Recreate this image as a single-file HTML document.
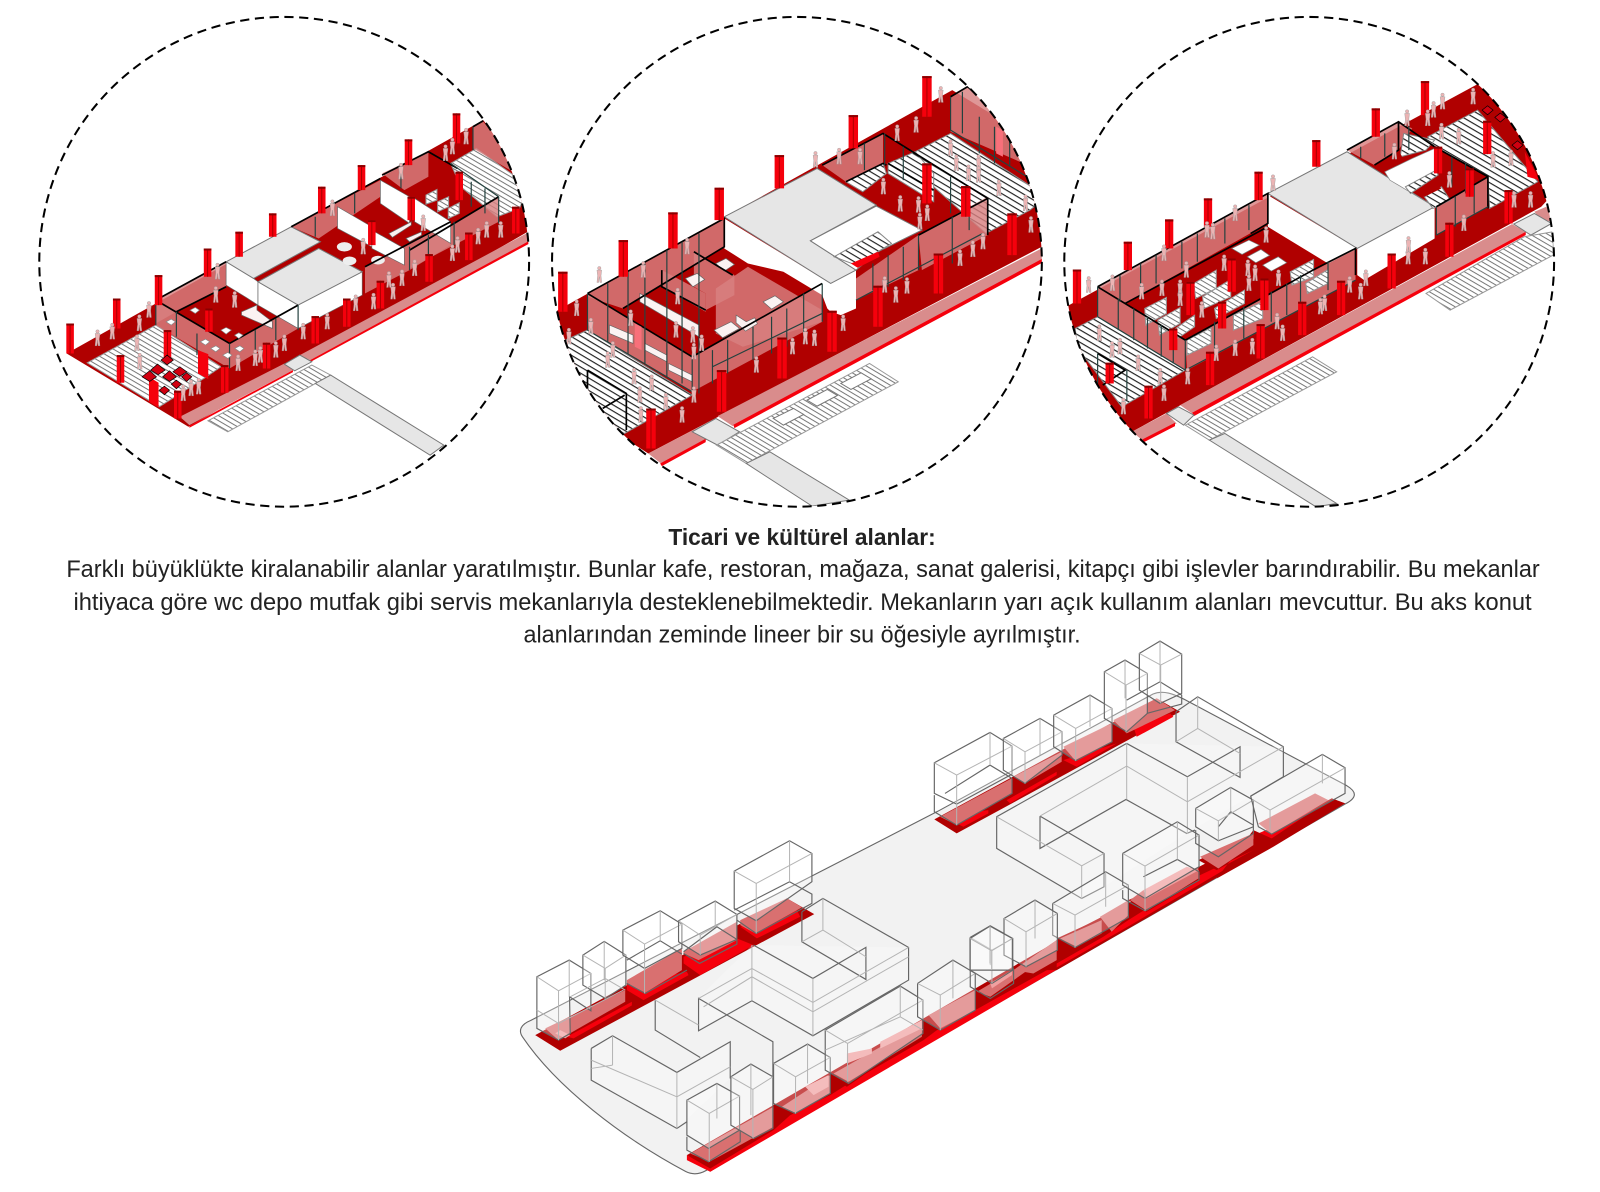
<!DOCTYPE html>
<html lang="tr"><head><meta charset="utf-8"><title>Ticari ve kültürel alanlar</title>
<style>
html,body{margin:0;padding:0;background:#fff}
svg{display:block}
text{font-family:"Liberation Sans",sans-serif;fill:#222}
.d{fill:#b00000}.b{fill:#f5000c}.k{fill:#d98c8c}.g{fill:#e6e6e6;stroke:#777;stroke-width:3}
.h{fill:url(#hatch);stroke:#888;stroke-width:3}.hf{fill:url(#hatchF);stroke:#999;stroke-width:3}
.w{fill:#fbf2f2;stroke:#666;stroke-width:2}
.gl{fill:#d88080;fill-opacity:.82}
.f{fill:none;stroke:#000;stroke-width:5}.m{fill:none;stroke:#24423f;stroke-width:3.5}
.col{fill:none;stroke:#f5000c}.cl{fill:none;stroke:#a00;stroke-width:3}.cp{fill:none;stroke:#8a0000;stroke-dasharray:6 9999}
.o{fill:#fff;fill-opacity:.3;stroke:#666;stroke-width:3.5}
.l{fill:none;stroke:#666;stroke-width:3.5}
.i{fill:none;stroke:#b4b4b4;stroke-width:3}
.p{fill:#ecb4b4;stroke:#999;stroke-width:1.2}
.c{fill:none;stroke:#000;stroke-width:2;stroke-dasharray:9 5.5}
</style></head><body>
<svg xmlns="http://www.w3.org/2000/svg" width="1600" height="1192" viewBox="0 0 1568 1168">
<defs>
<pattern id="hatch" patternUnits="userSpaceOnUse" width="16" height="16" patternTransform="rotate(31)"><rect width="16" height="16" fill="#fff"/><rect width="16" height="3.5" fill="#222"/></pattern>
<pattern id="hatchF" patternUnits="userSpaceOnUse" width="13" height="13" patternTransform="rotate(31)"><rect width="13" height="13" fill="#fff"/><rect width="13" height="3" fill="#777"/></pattern>
<g id="pp"><circle class="p" cy="-31" r="5"/><path class="p" d="M-7-25H7L5-8 7 12H2L0-5-2 12H-7L-5-8Z"/></g>
<clipPath id="c1"><circle cx="278.5" cy="256.5" r="240"/></clipPath>
<clipPath id="c2"><circle cx="781" cy="256.5" r="240"/></clipPath>
<clipPath id="c3"><circle cx="1283" cy="256.5" r="240"/></clipPath>
<path id="k1" d="M200 970V1060M336 895V985M458 825V915M601 745V830M693 695V770M791 640V710M934 560V640M1050 495V570M1187 418V495M1327 340V430M514 1172V1255M651 1095V1178M773 1028V1105M915 948V1030M1007 895V980M1105 842V925M1247 762V845M1363 697V780M1500 620V700M347 1065V1148M484 990V1075M605 925V995M1335 515V600M1195 590V660M1080 660V735"/>
<path id="k2" d="M67 815V935M246 720V830M393 637V745M530 563V660M708 465V565M927 345V445M1145 228V350M328 1225V1345M537 1110V1235M716 1012V1135M864 932V1055M1000 857V980M1179 760V880M1397 640V765M1145 490V610M1260 558V650"/>
<path id="k3" d="M50 808V910M198 725V810M318 658V745M431 595V680M578 515V600M746 420V500M919 325V410M1062 243V345M258 1157V1255M437 1055V1155M584 972V1075M705 905V1005M818 842V945M965 760V865M1133 668V770M1305 570V670M145 1088V1150M1243 362V462M1100 440V520M1192 505V590M380 845V945M500 775V875M595 835V930M472 905V985M330 985V1050"/>
</defs>
<rect width="1568" height="1168" fill="#fff"/>

<!-- Circle 1 -->
<g clip-path="url(#c1)"><g transform="translate(1.5 0) scale(.336 .3267)">
<path class="d" d="M190 1060L1405 360 1560 560V680L545 1280Z"/>
<path class="k" d="M520 1250L825 1090 850 1110 548 1275ZM870 1065L1540 695 1540 725 900 1080Z"/>
<path class="b" d="M548 1277L850 1110 850 1116 548 1283ZM900 1080L1540 722V730L900 1086Z"/>
<path class="g" d="M825 1092L870 1065 905 1085 855 1112Z"/>
<path class="hf" d="M602 1262L905 1095 960 1125 660 1295Z"/>
<path class="g" d="M915 1150L960 1125 1290 1335 1250 1365Z"/>
<path class="hf" d="M250 1088L450 975 640 1100 590 1135 460 1220Z"/>
<path class="hf" d="M1310 490L1385 445 1540 560 1510 625 1445 650 1340 560Z"/>
<path class="gl" d="M1375 380L1405 365 1500 480V520L1375 445Z"/>
<path class="gl" d="M450 900L655 785V860L510 935 450 970Z"/>
<path class="gl" d="M450 900L665 1030V1105L450 975Z"/>
<path class="gl" d="M665 1030L865 915V985L665 1105Z"/>
<path class="gl" d="M845 680L1105 540V590L925 715Z"/>
<path class="gl" d="M1110 520L1245 455V530L1175 570Z"/>
<path class="gl" d="M1060 800L1310 665V735L1190 810 1060 880Z"/>
<path class="gl" d="M1190 750L1450 590V665L1190 805Z"/>
<path fill="#fff" stroke="#666" stroke-width="2" d="M655 785L735 835 748 845V915L715 893 655 855Z"/>
<path class="g" d="M655 785L845 680 930 725 735 835Z"/>
<path fill="#fff" stroke="#666" stroke-width="2" d="M748 845L865 915V985L748 915ZM865 915L1052 815V885L865 985Z"/>
<path class="g" d="M748 845L925 745 1052 815 865 915Z"/>
<path fill="#fff" stroke="#666" stroke-width="2" d="M980 620L1080 680V740L980 685ZM1105 540L1190 590V670L1105 610ZM1205 595L1310 665V730L1205 665ZM1080 690L1175 745V795L1080 745Z"/>
<ellipse cx="1000" cy="740" rx="22" ry="14" fill="#eee"/><ellipse cx="1015" cy="782" rx="20" ry="13" fill="#eee"/><ellipse cx="1098" cy="780" rx="20" ry="13" fill="#eee"/>
<path class="w" d="M1130 700L1195 665V675L1140 712ZM1180 715L1225 695V705L1190 725ZM700 935L745 915V930L790 965V985L700 945Z"/>
<path class="hf" d="M1238 585L1270 568V600L1238 612ZM1272 605L1304 590V620L1272 635ZM1303 625L1335 608V640L1303 655Z"/>
<path class="f" d="M450 900L655 785M450 900L665 1030 865 915M510 935L655 860M845 680L1105 535M1110 525L1245 455 1330 505M1060 800L1310 665M1190 750L1450 590M1375 380L1405 362"/>
<path class="m" d="M450 900V975M510 935V1010M570 1000V1065M665 1030V1105M740 990V1060M800 955V1020M865 915V990M1190 740V810M1245 705V770M1320 665V735M1450 590V670M1375 380V450M915 650V710M1030 580V640M1165 510V565M1310 490L1450 590M1370 545V620M1410 565V640"/>
<use href="#k1" class="col" stroke-width="22"/><use href="#k1" class="cl"/><use href="#k1" class="cp" stroke-width="22"/>
<path class="b" d="M430 1130L458 1148V1222L430 1205ZM573 1050L603 1062V1137L573 1120Z"/>
<path fill="#d00010" d="M410 1130l22-18 20 18-20 14ZM435 1110l20-18 22 18-20 14ZM470 1130l20-18 20 18-20 14ZM500 1115l20-15 20 15-20 14ZM465 1080l18-15 18 15-18 14ZM525 1130l15-12 15 12-15 14ZM495 1152l15-12 15 12-15 14ZM460 1170l15-12 15 12-15 14Z" stroke="#000" stroke-width="2"/>
<path fill="#fff" stroke="#888" stroke-width="2" d="M550 930l15-8 12 8-12 10ZM480 965l15-8 12 8-12 10ZM640 990l15-8 15 8-15 12ZM680 1005l12-7 12 7-12 10ZM580 1025l15-8 12 8-12 10ZM610 1045l15-8 12 8-12 10ZM680 1045l15-8 12 8-12 10ZM645 1065l15-8 12 8-12 10Z"/>
<g><use href="#pp" x="280" y="1025"/><use href="#pp" x="323" y="1005"/><use href="#pp" x="402" y="980"/><use href="#pp" x="430" y="940"/><use href="#pp" x="395" y="1040"/><use href="#pp" x="403" y="1095"/><use href="#pp" x="530" y="1190"/><use href="#pp" x="553" y="1175"/><use href="#pp" x="575" y="1170"/><use href="#pp" x="690" y="1100"/><use href="#pp" x="740" y="1085"/><use href="#pp" x="755" y="1075"/><use href="#pp" x="800" y="1060"/><use href="#pp" x="825" y="1040"/><use href="#pp" x="880" y="1005"/><use href="#pp" x="950" y="975"/><use href="#pp" x="1033" y="920"/><use href="#pp" x="1085" y="915"/><use href="#pp" x="1142" y="885"/><use href="#pp" x="1130" y="850"/><use href="#pp" x="1168" y="845"/><use href="#pp" x="1205" y="815"/><use href="#pp" x="1315" y="770"/><use href="#pp" x="1330" y="745"/><use href="#pp" x="1390" y="720"/><use href="#pp" x="1415" y="700"/><use href="#pp" x="1456" y="700"/><use href="#pp" x="680" y="910"/><use href="#pp" x="625" y="895"/><use href="#pp" x="1055" y="750"/><use href="#pp" x="1230" y="680"/><use href="#pp" x="1315" y="450"/><use href="#pp" x="1355" y="420"/><use href="#pp" x="1295" y="470"/><use href="#pp" x="1165" y="525"/><use href="#pp" x="965" y="635"/><use href="#pp" x="630" y="825"/></g>
</g></g>

<!-- Circle 2 -->
<g clip-path="url(#c2)"><g transform="translate(529.4 0) scale(.331 .3267)">
<path class="d" d="M0 960L1220 270 1560 480V700L320 1360 0 1150Z"/>
<path class="k" d="M320 1360L490 1270 495 1318 360 1392ZM525 1248L1490 742V778L570 1278Z"/>
<path class="b" d="M355 1390L490 1316V1326L360 1398ZM572 1274L1490 774V786L575 1284Z"/>
<path class="g" d="M450 1295L520 1255 590 1295 525 1335Z"/>
<path class="hf" d="M522 1335L975 1090 1060 1145 610 1390Z"/>
<path class="g" style="fill:#fff" d="M690 1255l60-30 30 18-60 32ZM790 1200l60-32 30 18-60 32ZM890 1150l60-32 30 18-60 32Z"/>
<path class="g" d="M610 1390L680 1355 915 1500 805 1518Z"/>
<path class="h" d="M75 1020L140 990 450 1185 250 1300 60 1200Z"/>
<path class="h" d="M1110 455L1215 400 1500 590 1450 630 1320 700 1165 560Z"/>
<path class="h" d="M905 545L1015 490 1025 520 955 575Z"/>
<path class="h" d="M1030 490L1110 455 1165 520V605L1030 520Z"/>
<path class="gl" d="M1215 290L1270 260 1500 430V520L1215 395Z"/>
<path class="gl" d="M835 495L1015 400V490L905 545Z"/>
<path class="gl" d="M140 880L545 655V740L245 925 140 890Z"/>
<path class="d" d="M245 925L545 745 835 960 550 1120 450 1075Z"/>
<path class="gl" d="M360 810L490 880V935L360 860Z"/>
<path class="gl" d="M455 755L575 825V885L490 930 490 880 455 860Z"/>
<path class="gl" d="M520 865L615 800 835 930V965L600 1040 520 1000Z"/>
<path class="gl" d="M140 880L450 1070V1175L140 990Z"/>
<path class="gl" d="M450 1070L835 850V965L550 1120 450 1175Z"/>
<path class="gl" d="M935 835L1120 705V810L935 900Z"/>
<path class="gl" d="M1120 705L1325 590V705L1130 810Z"/>
<path fill="#fff" d="M545 655L860 850 935 810V925L890 945 860 935 850 925 835 885 720 815 615 790 545 745Z"/>
<path class="g" d="M545 650L820 505 995 615 800 722 935 810 860 850Z"/>
<path fill="#fff" stroke="#777" stroke-width="3" d="M800 722L995 618 1130 690 1000 755 935 810Z"/>
<path class="h" d="M870 770L1000 695 1040 730 935 795Z"/>
<path class="b" d="M920 790L1000 755 1005 770 940 803Z"/>
<path class="w" d="M295 880L470 975V1010L295 905ZM205 975l70 30v25l-70-30ZM310 1030l65 35v20l-65-35ZM380 1090l70 35v20l-70-35ZM515 990l50-25 25 20-50 28ZM580 945l30 20 25-12 8 18-35 22-28-25ZM660 905l35-18 25 18-35 22ZM430 835l35-15 22 18-35 22ZM520 790l30-15 25 18-30 20Z"/>
<path class="f" d="M140 880L545 655V740L245 925M140 880L450 1070 835 850M360 810V860L490 930M455 755L570 825M905 545L1015 490 1025 495M835 495L1015 400 1325 595V705M1030 490L1165 570M1215 290L1265 260 1340 320M1120 705L1325 595M140 1110L255 1180V1290M140 1110V1190M185 1225L250 1185"/>
<path class="m" d="M140 880V990M200 850V1025M260 815V1060M310 790V1090M375 750V1130M420 725V1150M470 700V1180M450 1070V1175M510 1050V1150M555 1020V1120M630 980V1080M685 950V1060M730 925V1040M780 880V1000M835 850V965M960 430V510M1020 400V495M1075 440V540M1215 530V640M1270 560V690M1220 650V790M1120 705V810M1075 740V840M1030 765V860M985 790V870M1215 290V390M1250 275V400M1300 350V460M1345 380V490M1390 420V500M1215 390L1490 560M140 990L450 1175M510 1100L835 940M935 900L1310 700"/>
<use href="#k2" class="col" stroke-width="28"/><use href="#k2" class="cl"/><use href="#k2" class="cp" stroke-width="28"/>
<path fill="#f8707a" d="M280 970l20 10v70l-20-10ZM1350 380l20 10v80l-20-10Z"/>
<g><use href="#pp" x="108" y="935"/><use href="#pp" x="85" y="1020"/><use href="#pp" x="150" y="990"/><use href="#pp" x="175" y="835"/><use href="#pp" x="305" y="820"/><use href="#pp" x="435" y="750"/><use href="#pp" x="407" y="900"/><use href="#pp" x="268" y="965"/><use href="#pp" x="402" y="1000"/><use href="#pp" x="452" y="1015"/><use href="#pp" x="478" y="1040"/><use href="#pp" x="455" y="1065"/><use href="#pp" x="455" y="1195"/><use href="#pp" x="420" y="1255"/><use href="#pp" x="372" y="1215"/><use href="#pp" x="330" y="1160"/><use href="#pp" x="278" y="1140"/><use href="#pp" x="295" y="1195"/><use href="#pp" x="298" y="1255"/><use href="#pp" x="200" y="1090"/><use href="#pp" x="215" y="1060"/><use href="#pp" x="640" y="1105"/><use href="#pp" x="747" y="1050"/><use href="#pp" x="785" y="1020"/><use href="#pp" x="812" y="1025"/><use href="#pp" x="897" y="980"/><use href="#pp" x="1020" y="865"/><use href="#pp" x="1053" y="895"/><use href="#pp" x="1086" y="868"/><use href="#pp" x="1243" y="785"/><use href="#pp" x="1281" y="758"/><use href="#pp" x="1311" y="735"/><use href="#pp" x="1453" y="685"/><use href="#pp" x="1016" y="570"/><use href="#pp" x="1066" y="622"/><use href="#pp" x="1120" y="625"/><use href="#pp" x="1146" y="650"/><use href="#pp" x="1124" y="675"/><use href="#pp" x="947" y="480"/><use href="#pp" x="885" y="480"/><use href="#pp" x="815" y="490"/><use href="#pp" x="1186" y="295"/><use href="#pp" x="1113" y="385"/><use href="#pp" x="1057" y="410"/><use href="#pp" x="1215" y="455"/><use href="#pp" x="1232" y="500"/><use href="#pp" x="1298" y="500"/><use href="#pp" x="1298" y="535"/><use href="#pp" x="1268" y="530"/><use href="#pp" x="1358" y="575"/><use href="#pp" x="1437" y="620"/></g>
</g></g>

<!-- Circle 3 -->
<g clip-path="url(#c3)"><g transform="translate(1038.6 0) scale(.337 .3267)">
<path class="d" d="M0 930L1215 252 1560 440 1400 620 210 1295 0 1160Z"/>
<path class="k" d="M210 1295L310 1240 340 1270 240 1320ZM350 1215L1315 672 1355 695 385 1240ZM1380 635L1415 620 1440 665 1400 660Z"/>
<path class="b" d="M240 1318L335 1268V1278L245 1326ZM385 1238L1355 695V705L390 1248Z"/>
<path class="g" d="M310 1240L345 1220 390 1245 360 1275ZM1320 672L1380 640 1430 670 1370 705Z"/>
<path class="hf" d="M365 1275L735 1070 805 1115 435 1320ZM1065 880L1350 710 1435 695V765L1135 930Z"/>
<path class="g" d="M435 1320L480 1300 805 1510 745 1520Z"/>
<path class="h" d="M45 985L110 950 365 1110 180 1220 50 1040Z"/>
<path class="h" d="M1070 410L1215 330 1390 545 1250 625 1245 530 1090 440Z"/>
<path class="gl" d="M835 450L985 365 1025 385 985 450 915 495Z"/>
<path class="h" d="M1000 400L1090 420 1065 450 990 470Z"/>
<path class="gl" d="M110 860L605 580V670L190 910Z"/>
<path class="d" d="M190 910L605 680 860 840 365 1015Z"/>
<path class="gl" d="M110 860L365 1020V1110L110 950Z"/>
<path class="gl" d="M365 1020L860 745V840L370 1110Z"/>
<path class="gl" d="M1095 620L1245 530V620L1095 705Z"/>
<path fill="#fff" d="M605 585L865 745V825L885 840 1090 715V620L865 745 780 790 605 680Z"/>
<path class="g" d="M605 580L835 455 1090 620 865 745Z"/>
<path class="d" d="M920 495L985 450 1000 480 945 520Z"/>
<path fill="#fff" stroke="#888" stroke-width="2" d="M945 515L1025 475 1090 445 1100 520 1010 570 1090 620 960 540Z"/>
<path class="h" d="M1005 560L1095 510 1100 525 1020 580ZM1060 590L1110 560 1135 600 1085 625Z"/>
<path class="d" d="M1040 585L1095 555 1110 565 1060 590Z"/>
<path class="hf" d="M390 850L455 810V865L395 895ZM415 890L497 838V890L420 925ZM450 925L537 870V910L455 955ZM247 925L310 892V940L250 975ZM285 960L350 922V970L290 1005ZM330 990L392 945V980L335 1020ZM505 945L590 905V955L505 990ZM370 1020L440 983V1030L370 1065ZM670 815L738 778V830L675 855ZM715 850L780 808V850L720 880Z"/>
<path fill="#fff" stroke="#777" stroke-width="2" d="M500 745l50-25 30 15-50 28ZM545 770l40-22 25 18-40 22ZM590 795l45-25 25 18-45 25Z"/>
<path class="f" d="M110 860L605 580V670L555 700M190 910L605 680M110 860L365 1020 745 805 860 745V825M835 450L985 365 1090 440 1245 530V625M985 365V450L915 495M1095 620L1245 530M110 1060L190 1110 125 1155"/>
<path class="m" d="M110 860V950M175 825V905M235 790V870M280 765V850M355 725V805M400 700V785M480 655V730M550 615V690M365 1020V1110M365 1110L860 840M450 965V1060M535 920V1015M615 875V965M660 850V945M700 825V920M780 785V870M110 950L365 1110M170 895V990M215 925V1020M255 950V1045M295 975V1070M330 995V1090M1095 620V705M1150 590V680M1205 555V640M875 440V475M945 400V470M1015 360V450M1140 470V560M1180 490V580M1095 705L1245 620M110 1060V1150M195 1110V1200"/>
<use href="#k3" class="col" stroke-width="24"/><use href="#k3" class="cl"/><use href="#k3" class="cp" stroke-width="24"/>
<path class="b" d="M1352 455L1395 540 1360 530Z"/>
<path fill="#d00010" stroke="#000" stroke-width="2" d="M1228 330l16-13 16 13-16 14ZM1265 352l16-13 16 13-16 14ZM1315 435l16-13 16 13-16 14Z"/>
<g><use href="#pp" x="84" y="865"/><use href="#pp" x="153" y="860"/><use href="#pp" x="238" y="885"/><use href="#pp" x="303" y="770"/><use href="#pp" x="428" y="700"/><use href="#pp" x="445" y="705"/><use href="#pp" x="510" y="650"/><use href="#pp" x="297" y="875"/><use href="#pp" x="350" y="875"/><use href="#pp" x="350" y="905"/><use href="#pp" x="368" y="820"/><use href="#pp" x="413" y="940"/><use href="#pp" x="478" y="800"/><use href="#pp" x="547" y="815"/><use href="#pp" x="568" y="830"/><use href="#pp" x="550" y="860"/><use href="#pp" x="636" y="845"/><use href="#pp" x="620" y="560"/><use href="#pp" x="600" y="715"/><use href="#pp" x="115" y="1010"/><use href="#pp" x="175" y="1050"/><use href="#pp" x="152" y="1060"/><use href="#pp" x="228" y="1100"/><use href="#pp" x="292" y="1140"/><use href="#pp" x="185" y="1230"/><use href="#pp" x="303" y="1190"/><use href="#pp" x="372" y="1140"/><use href="#pp" x="455" y="1070"/><use href="#pp" x="510" y="1055"/><use href="#pp" x="560" y="1050"/><use href="#pp" x="632" y="975"/><use href="#pp" x="648" y="1010"/><use href="#pp" x="758" y="930"/><use href="#pp" x="770" y="920"/><use href="#pp" x="843" y="865"/><use href="#pp" x="875" y="885"/><use href="#pp" x="890" y="845"/><use href="#pp" x="1013" y="780"/><use href="#pp" x="1014" y="745"/><use href="#pp" x="1063" y="780"/><use href="#pp" x="1175" y="680"/><use href="#pp" x="1321" y="610"/><use href="#pp" x="1369" y="610"/><use href="#pp" x="1133" y="550"/><use href="#pp" x="1010" y="365"/><use href="#pp" x="1087" y="340"/><use href="#pp" x="1113" y="315"/><use href="#pp" x="1070" y="365"/><use href="#pp" x="1202" y="300"/><use href="#pp" x="973" y="465"/><use href="#pp" x="1160" y="420"/><use href="#pp" x="1110" y="405"/><use href="#pp" x="1260" y="490"/><use href="#pp" x="1312" y="485"/></g>
</g></g>

<circle class="c" cx="278.5" cy="256.5" r="240"/>
<circle class="c" cx="781" cy="256.5" r="240"/>
<circle class="c" cx="1283" cy="256.5" r="240"/>

<!-- Text -->
<text x="655" y="534" font-size="23" font-weight="700" textLength="262" lengthAdjust="spacingAndGlyphs">Ticari ve kültürel alanlar:</text>
<text x="65" y="565.5" font-size="24" textLength="1444" lengthAdjust="spacingAndGlyphs">Farklı büyüklükte kiralanabilir alanlar yaratılmıştır. Bunlar kafe, restoran, mağaza, sanat galerisi, kitapçı gibi işlevler barındırabilir. Bu mekanlar</text>
<text x="72" y="597.5" font-size="24" textLength="1429" lengthAdjust="spacingAndGlyphs">ihtiyaca göre wc depo mutfak gibi servis mekanlarıyla desteklenebilmektedir. Mekanların yarı açık kullanım alanları mevcuttur. Bu aks konut</text>
<text x="513" y="629.5" font-size="24" textLength="546" lengthAdjust="spacingAndGlyphs">alanlarından zeminde lineer bir su öğesiyle ayrılmıştır.</text>

<!-- Site plan -->
<path d="M512 1016C508 1010 510 1004 520 1000L919 795 1130 680C1140 676 1150 680 1160 685L1320 770C1330 776 1330 782 1318 788L692 1147C685 1151 678 1151 672 1148 610 1115 545 1065 512 1016Z" fill="#f2f2f2" stroke="#666" stroke-width="1.1"/>

<!-- lower-left group, zoom coords -->
<g transform="translate(500 803.6) scale(.3267)">
<path class="d" d="M75 645L830 235 912 282 150 692Z"/>
<path class="b" d="M170 650L365 545V556L190 655ZM350 490L530 455 535 465 400 540 350 510ZM520 410L680 355 730 375 570 465 520 430ZM690 320L860 270 870 290 740 355Z"/>
<path fill="#d97070" d="M105 625L345 510V545L170 645 145 660ZM350 480L515 385V450L405 518 350 490ZM520 395L680 305V360L565 420 520 400ZM690 300L830 235 875 262 735 340 690 315Z"/>
<path class="d" d="M530 1005L1660 352V422L600 1055Z"/>
<path class="b" d="M530 1005L600 1045 790 930 840 885 960 825 1015 790 1240 660 1280 630 1395 570 1660 422V437L600 1055 530 1020Z"/>
<path class="d" d="M960 770L1010 800 1240 640V620ZM790 855L840 885 960 815V770ZM1240 600L1280 630 1435 545V510ZM1400 520L1440 540 1660 412V357Z"/>
<path fill="#d97070" d="M540 1000L790 860V920L598 1025ZM815 860L960 765V820L855 878ZM970 760L1235 610V650L1015 785ZM1255 585L1395 510V570L1290 625ZM1400 515L1560 420V445L1440 530Z"/>
<path fill="#f0a0a0" d="M1110 665L1235 600V625L1110 685ZM885 800L955 765V800L910 825ZM1010 700L1085 685V700L1010 730ZM150 630l30 15-15 10-30-15ZM1440 490L1505 450V465L1445 505Z"/>
<path d="M243 685L307 647 500 757 660 665V775L500 925 243 780ZM565 535L725 375 1195 382V480L908 647 725 542 565 632Z" fill="#fff" fill-opacity=".25"/>
<path class="l" d="M875 275L938 235 1195 382V480L908 647 725 542 565 632V535L788 665V770M875 275V365L1067 478V382L908 475 730 375M435 540V630L570 712M243 685L307 647 500 757 660 665V775M243 685V780L500 925 530 905"/>
<path class="i" d="M725 375V542M565 535L725 445 908 547 1195 382M435 540L565 615M908 475V647M938 235V330L875 365M938 330L1067 410M500 757V925M243 745L307 735M243 720L500 830 660 740M307 647V735M580 560L725 470 908 575 1195 410"/>
<path class="o" d="M80 470L177 420 242 460V572L178 530 180 640 145 660 80 625Z"/>
<path class="i" d="M80 470L145 512 242 460M145 512V660M177 420V530M80 570L145 610 340 510"/>
<path class="o" d="M218 405L282 364 347 405V495L285 535 218 495Z"/>
<path class="i" d="M218 405L285 445 347 405M285 445V535M282 364V480M180 530L285 475 345 510"/>
<path class="o" d="M338 330L450 272 515 312V385L403 445 338 405Z"/>
<path class="l" d="M350 420L450 362 515 402M350 490L405 520 530 450"/>
<path class="i" d="M338 330L403 372 515 312M403 372V445M450 272V362M403 445V520"/>
<path class="o" d="M505 302L615 243 680 283V358L570 405 505 365Z"/>
<path class="l" d="M520 395L620 320 680 358V372L568 430 520 400"/>
<path class="i" d="M505 302L570 345 680 283M570 345V405M615 243V320"/>
<path class="o" d="M672 153L838 62 905 100V185L738 302 672 265Z"/>
<path class="l" d="M672 270L838 185 905 222V250L738 340 680 300"/>
<path class="i" d="M672 153L738 190 905 100M738 190V340M838 62V185"/>
<path class="o" d="M530 840L620 790 688 828V930L595 985 530 945Z"/>
<path class="l" d="M530 950V990L595 1025 690 965V930"/>
<path class="i" d="M530 840L597 880 688 828M597 880V1025M620 790V895"/>
<path class="o" d="M662 770L722 732 788 770V925L730 955 662 915Z"/>
<path class="i" d="M662 770L728 808 788 770M728 808V955M722 732V885"/>
<path class="o" d="M790 730L892 672 960 712V820L855 880 790 850Z"/>
<path class="i" d="M790 730L856 770 960 712M856 770V880M892 672V790"/>
<path class="o" d="M945 630L1170 498 1238 540V640L1015 790 945 750Z"/>
<path class="i" d="M945 630L1012 670 1238 540M1012 670V785M1170 498V590M945 690L1170 590 1238 630"/>
<path class="o" d="M1222 490L1328 420 1395 460V570L1290 630 1222 590Z"/>
<path class="i" d="M1222 490L1290 525 1395 460M1290 525V630M1328 420V535"/>
<path class="o" d="M1380 352L1440 317 1508 355V450L1445 490 1380 450Z"/>
<path class="l" d="M1380 450V500L1440 535 1510 490V445"/>
<path class="i" d="M1380 352L1445 390 1508 355M1445 390V490M1440 317V435"/>
</g>

<!-- upper-right group, zoom coords -->
<g transform="translate(882 617.4) scale(.3267)">
<path class="d" d="M103 568L770 205 840 245 170 610Z"/>
<path class="b" d="M125 558L265 540V550L190 590ZM320 510L470 425V435L330 520ZM490 390L650 340 530 410ZM700 290L810 250 820 260 710 320Z"/>
<path fill="#d97070" d="M120 560L335 445V490L170 585ZM340 440L485 365V395L375 460ZM490 350L635 280V335L525 390ZM640 270L770 205 825 240 680 310Z"/>
<path class="d" d="M470 930L1295 505 1335 520 470 1020H340Z"/>
<path class="b" d="M470 1000L610 920 685 870 900 735 1060 660 1075 610 1285 520V535L700 880 470 1012Z"/>
<path class="d" d="M470 925L530 960 610 910 590 870ZM685 810L740 845 900 750 890 720ZM895 690L950 720 1060 660 1060 610ZM1060 600L1115 625 1295 505 1335 520 1120 650 950 745Z"/>
<path fill="#d97070" d="M340 1020L470 930V990L400 1030ZM480 925L605 870V910L530 950ZM600 860L685 810V855L635 905ZM690 810L730 780 895 710V745L740 842ZM900 680L1060 610V645L955 715ZM1075 580L1245 490 1285 510 1115 612Z"/>
<path fill="#f0a0a0" d="M730 780L860 710 897 720 740 805Z"/>
<path d="M290 560L680 340 1150 350V440L860 610 612 770 545 805 290 655Z" fill="#fff" fill-opacity=".25"/>
<path class="l" d="M828 245L893 200 1150 350V440L1052 498M828 245V335L1020 442V350L862 440 680 340M420 558V655L678 508 860 610 885 600M420 558L612 670V770L545 805 290 655V560L680 340"/>
<path class="i" d="M420 558L680 408 862 515 1150 350M680 340V508M862 440V610M545 707L612 670M545 707V805M290 560L545 707M893 200V295L828 335M893 295L1020 370"/>
<path class="o" d="M103 398L270 307 336 348V432L170 522 103 490Z"/>
<path class="l" d="M103 495V545L170 585 336 490V445M135 490L270 405 336 445"/>
<path class="i" d="M103 398L170 435 336 348M170 435V585M270 307V405"/>
<path class="o" d="M310 325L420 265 486 305V375L375 460 310 420Z"/>
<path class="i" d="M310 325L375 365 486 305M375 365V460M420 265V375"/>
<path class="o" d="M461 255L570 195 636 235V335L527 392 461 350Z"/>
<path class="i" d="M461 255L527 295 636 235M527 295V392M570 195V290"/>
<path class="o" d="M613 125L675 90 742 130V250L680 305 613 265Z"/>
<path class="i" d="M613 125L678 165 742 130M678 165V305M675 90V205"/>
<path class="o" d="M718 70L780 33 845 72V190L780 220 718 180Z"/>
<path class="l" d="M680 210L780 155 845 195V222L740 250"/>
<path class="i" d="M718 70L782 105 845 72M782 105V220M780 33V155"/>
<path class="o" d="M458 820L617 725 685 765V862L525 952 458 915Z"/>
<path class="i" d="M458 820L525 855 685 765M617 725V830M525 855V952"/>
<path class="o" d="M668 670L832 575 897 615V710L735 805 668 765Z"/>
<path class="l" d="M668 780V805L735 842 897 750V725M730 740L832 688 897 725"/>
<path class="i" d="M668 670L735 708 897 615M735 708V842M832 575V688"/>
<path class="o" d="M887 535L992 472 1060 510V590L955 632 887 590Z"/>
<path class="l" d="M887 600V640L955 680 1060 610V585M955 590L992 545 1060 585"/>
<path class="i" d="M887 535L955 572 1060 510M955 572V632M992 472V545"/>
<path class="o" d="M1052 498L1267 373 1335 413V490L1115 612 1075 590Z"/>
<path class="i" d="M1060 510L1110 540 1335 413M1110 540V600M1267 373V460"/>
<path class="o" d="M312 865L405 810 472 850V960L378 1010 312 975Z"/>
<path class="i" d="M312 865L378 905 472 850M378 905V1010M405 810V925"/>
<path class="o" d="M210 925L270 888 337 925V1020H210Z"/>
<path class="i" d="M210 925L275 962 337 925M275 962V1020M270 888V1000"/>
</g>
</svg>
</body></html>
